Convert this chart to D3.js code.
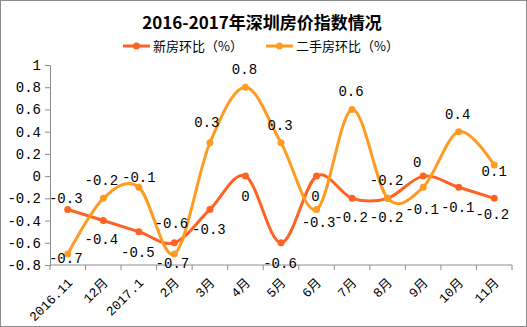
<!DOCTYPE html>
<html><head><meta charset="utf-8">
<script src="https://cdn.jsdelivr.net/npm/d3@7"></script>
<style>body{margin:0;background:#fff}svg{display:block}</style>
</head><body>
<svg id="c" width="527" height="327"></svg>
<script>
const categories = ["2016.11","12月","2017.1","2月","3月","4月","5月","6月","7月","8月","9月","10月","11月"];
const newHome = [-0.3,-0.4,-0.5,-0.6,-0.3,0,-0.6,0,-0.2,-0.2,0,-0.1,-0.2];
const secondHome = [-0.7,-0.2,-0.1,-0.7,0.3,0.8,0.3,-0.3,0.6,-0.2,-0.1,0.4,0.1];
const yTicks = [1,0.8,0.6,0.4,0.2,0,-0.2,-0.4,-0.6,-0.8];
const seriesNames = ["新房环比（%）","二手房环比（%）"];
const title = "2016-2017年深圳房价指数情况";
// label placement (style config): [dx, dy]
const newLabelOff = [[-2,-11],[-2,19],[-1,20],[-3,-20],[-1,20],[0,20],[-1,20],[-1,20],[-1,19],[-1,19],[-6,-14],[-1,20],[-2,16]];
const secondLabelOff = [[-2,4],[-2,-18],[0,-10],[-2,9],[-3,-21],[-1,-18],[-1,-18],[2,13],[-1,-18],[-1,-18],[-1,22],[-1,-18],[0,6]];

const svg = d3.select("#c");
const W=527,H=327;
const mLeft=50,mRight=512,mTop=65,mBottom=265;
const colNew="#FF6323", colSec="#FF9A22", axisCol="#8c8c8c";
const monoFont="'Liberation Mono','DejaVu Sans Mono',monospace";
const cjk="'Noto Sans CJK SC',sans-serif";

svg.append("rect").attr("x",0.5).attr("y",0.5).attr("width",W-1).attr("height",H-1)
  .attr("fill","#fff").attr("stroke","#8c8c8c");

const x = d3.scaleBand().domain(categories).range([mLeft,mRight]).paddingInner(0).paddingOuter(0);
const xc = d => x(d)+x.bandwidth()/2;
const y = d3.scaleLinear().domain([-0.8,1]).range([mBottom,mTop]);
const fmt = v => v===0?"0":String(+v.toFixed(1));

// y axis
const yAxis = d3.axisLeft(y).tickValues(yTicks).tickSize(5).tickPadding(4).tickFormat(fmt);
const gy = svg.append("g").attr("transform",`translate(${mLeft},0)`).call(yAxis);
gy.select(".domain").attr("stroke",axisCol);
gy.selectAll(".tick line").attr("stroke",axisCol);
gy.selectAll("text").attr("font-family",monoFont).attr("font-size",14).attr("fill","#000");

// x axis
const gx = svg.append("g").attr("transform",`translate(0,${mBottom})`);
gx.append("line").attr("x1",mLeft).attr("x2",mRight).attr("stroke",axisCol);
const bounds = categories.map(c=>x(c)).concat([mRight]);
gx.selectAll("line.t").data(bounds).join("line").attr("class","t")
  .attr("x1",d=>d).attr("x2",d=>d).attr("y1",0).attr("y2",5).attr("stroke",axisCol);
gx.selectAll("text").data(categories).join("text")
  .attr("transform",d=>`translate(${xc(d)-1},${12}) rotate(-45)`)
  .attr("text-anchor","end").attr("dy","0.7em")
  .attr("font-family",`'Liberation Mono',${cjk}`).attr("font-size",13).attr("fill","#000")
  .text(d=>d);

// lines
const line = d3.line().x((d,i)=>xc(categories[i])).y(d=>y(d)).curve(d3.curveCardinal.tension(0));
function drawSeries(vals,col){
  svg.append("path").datum(vals).attr("d",line).attr("fill","none").attr("stroke",col).attr("stroke-width",3);
  svg.append("g").selectAll("circle").data(vals).join("circle")
    .attr("cx",(d,i)=>xc(categories[i])).attr("cy",d=>y(d)).attr("r",3.5).attr("fill",col);
}
drawSeries(newHome,colNew);
drawSeries(secondHome,colSec);
function drawLabels(vals,offs){
  svg.append("g").selectAll("text").data(vals).join("text")
    .attr("x",(d,i)=>xc(categories[i])+offs[i][0]).attr("y",(d,i)=>y(d)+offs[i][1])
    .attr("dy","0.35em").attr("text-anchor","middle")
    .attr("font-family",monoFont).attr("font-size",14).attr("fill","#000")
    .text(d=>fmt(d));
}
drawLabels(newHome,newLabelOff);
drawLabels(secondHome,secondLabelOff);

// title
svg.append("text").attr("x",262).attr("y",23).attr("dy","0.35em").attr("text-anchor","middle")
  .attr("font-family",cjk).attr("font-weight","bold").attr("font-size",17).attr("fill","#000").text(title);

// legend
const leg = [{n:seriesNames[0],c:colNew,x:123},{n:seriesNames[1],c:colSec,x:266}];
leg.forEach(l=>{
  const g=svg.append("g").attr("transform",`translate(${l.x},46)`);
  g.append("line").attr("x1",0).attr("x2",27).attr("stroke",l.c).attr("stroke-width",3);
  g.append("circle").attr("cx",13.5).attr("r",3.5).attr("fill",l.c);
  g.append("text").attr("x",30).attr("dy","0.35em").attr("font-family",cjk).attr("font-size",13).attr("fill","#000").text(l.n);
});
</script>
</body></html>
